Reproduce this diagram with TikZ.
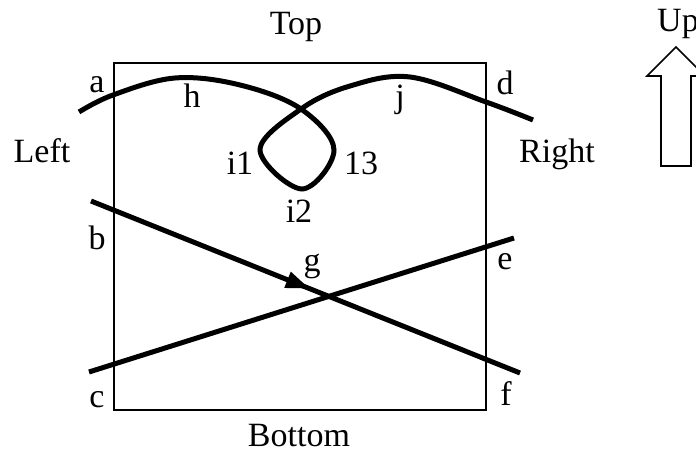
\documentclass[tikz,border=0pt]{standalone}
\usepackage{fontspec}
\setmainfont{Liberation Serif}
\usepackage{tikz}
\usetikzlibrary{arrows.meta, decorations.markings}

\begin{document}
\begin{tikzpicture}[x=0.5bp, y=-0.5bp,
  lbl/.style={anchor=base, inner sep=0pt, font=\fontsize{17bp}{20bp}\selectfont},
  frame/.style={draw, line width=1bp},
  curve/.style={line width=2.5bp},
  midarrow/.style={postaction={decorate}, decoration={markings,
    mark=at position 0.51 with {\arrow{Triangle[length=12bp, width=8bp]}}}},
  bigarrow/.style={draw, line width=0.8bp, line join=miter}
]
\useasboundingbox (0,0) rectangle (696,459);

% the square
\node[frame, minimum width=186bp, minimum height=173.5bp, inner sep=0pt, anchor=north west] (sq) at (113,62) {};

% loop curve
\draw[curve] plot[smooth, tension=0.6] coordinates {(79,112) (113,95) (175,78) (240,85) (301,109)
  (334,150) (302,189) (260,150) (301,109) (350,86) (410,77) (486,102) (533,120)};

% straight lines
\coordinate (bstart) at (91,201);
\coordinate (fend) at (520,373);
\coordinate (cstart) at (89,372);
\coordinate (eend) at (514,238);
\draw[curve, midarrow] (bstart) -- (fend);
\draw[curve] (cstart) -- (eend);

% up arrow
\draw[bigarrow] (676,47) -- (705,76) -- (691,76) -- (691,166) -- (661,166) -- (661,76) -- (647,76) -- cycle;

% labels
\node[lbl] (top) at (296,35) {Top};
\node[lbl] (bottom) at (299,447) {Bottom};
\node[lbl] (left) at (42,163) {Left};
\node[lbl] (right) at (557,163) {Right};
\node[lbl] (up) at (678,32) {Up};
\node[lbl] (a) at (97,93) {a};
\node[lbl] (h) at (192,108) {h};
\node[lbl] (j) at (400,108) {j};
\node[lbl] (d) at (505,95) {d};
\node[lbl] (ione) at (240,175) {i1};
\node[lbl] (thirteen) at (361,175) {13};
\node[lbl] (itwo) at (299,223) {i2};
\node[lbl] (b) at (97,250) {b};
\node[lbl] (g) at (312,272) {g};
\node[lbl] (e) at (505,270) {e};
\node[lbl] (c) at (97,408) {c};
\node[lbl] (f) at (506,406) {f};
\end{tikzpicture}
\end{document}
